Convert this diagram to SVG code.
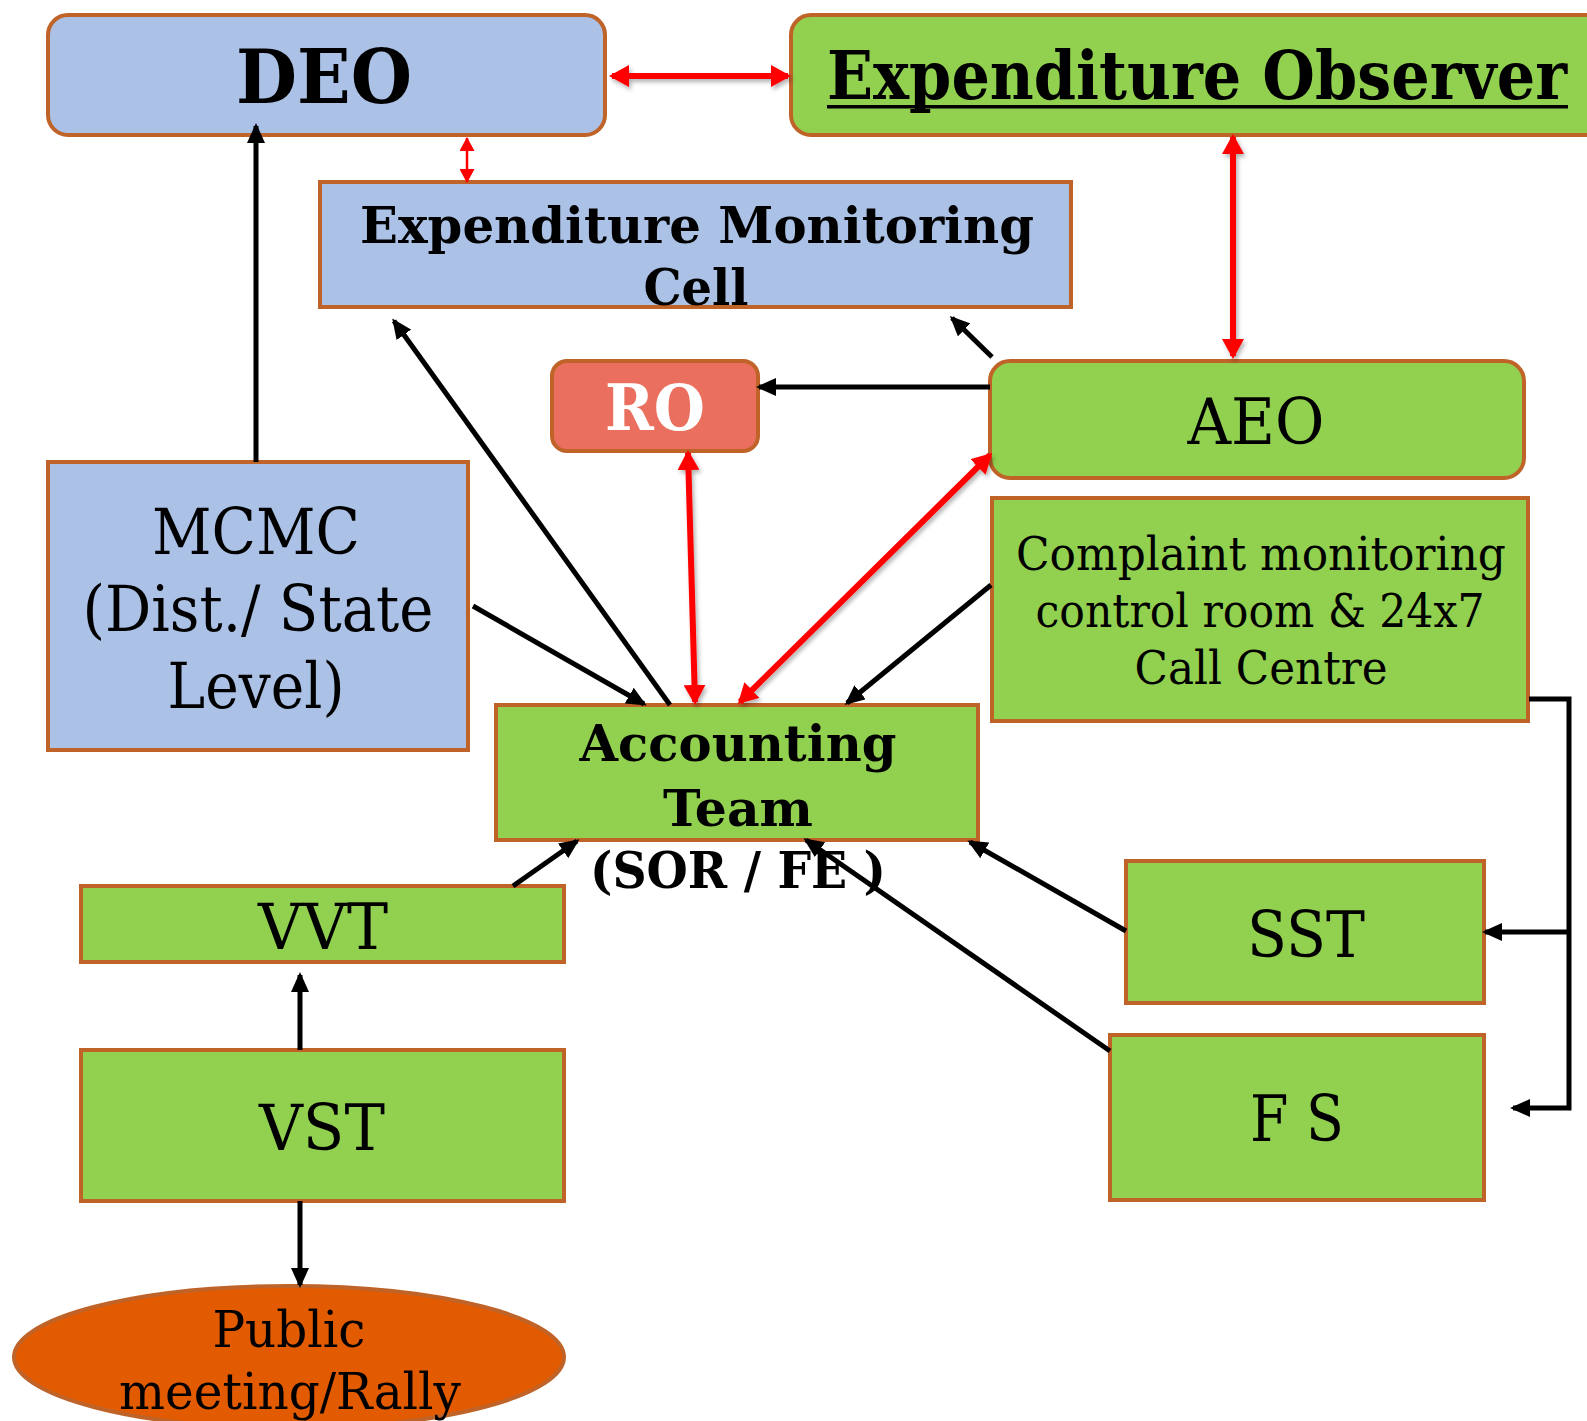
<svg xmlns="http://www.w3.org/2000/svg" width="1587" height="1421" viewBox="0 0 1587 1421">
  <style>
    .box { stroke: #BF6328; stroke-width: 4; }
    .blue { fill: #ABC1E6; }
    .green { fill: #92D050; }
    .ro { fill: #EA6F5E; }
    .rally { fill: #E35B00; }
    text { font-family: "DejaVu Serif", "Liberation Serif", serif; fill: #000; text-anchor: middle; }
    .b { font-weight: bold; }
    .white { fill: #fff; }
    .blk { stroke: #000; stroke-width: 5; fill: none; marker-end: url(#headK); }
    .red { stroke: #FF0000; stroke-width: 6; fill: none; marker-start: url(#headR); marker-end: url(#headR); }
    .redThin { stroke: #FF0000; stroke-width: 2.5; fill: none; marker-start: url(#headRs); marker-end: url(#headRs); }
  </style>
  <defs>
    <marker id="headK" markerUnits="userSpaceOnUse" viewBox="0 0 20 18" markerWidth="20" markerHeight="18" refX="17" refY="9" orient="auto-start-reverse">
      <path d="M0,0 L20,9 L0,18 z" fill="#000"/>
    </marker>
    <marker id="headR" markerUnits="userSpaceOnUse" viewBox="0 0 20 22" markerWidth="20" markerHeight="22" refX="17" refY="11" orient="auto-start-reverse">
      <path d="M0,0 L20,11 L0,22 z" fill="#FF0000"/>
    </marker>
    <marker id="headRs" markerUnits="userSpaceOnUse" viewBox="0 0 14 15" markerWidth="14" markerHeight="15" refX="13" refY="7.5" orient="auto-start-reverse">
      <path d="M0,0 L14,7.5 L0,15 z" fill="#FF0000"/>
    </marker>
    <!-- soft shadow under the two-way links; region given in user space so straight lines keep it -->
    <filter id="soft" filterUnits="userSpaceOnUse" x="0" y="0" width="1587" height="1421">
      <feDropShadow dx="2" dy="3" stdDeviation="2" flood-color="#000" flood-opacity="0.3"/>
    </filter>
  </defs>

  <rect width="1587" height="1421" fill="#fff"/>

  <g id="deo">
    <rect class="box blue" x="48" y="15" width="557" height="120" rx="20"/>
    <text class="b" x="324" y="103" font-size="74" textLength="176" lengthAdjust="spacingAndGlyphs">DEO</text>
  </g>

  <g id="expenditure-observer">
    <rect class="box green" x="791" y="15" width="820" height="120" rx="20"/>
    <text class="b" x="1197" y="99" font-size="67" textLength="740" lengthAdjust="spacingAndGlyphs">Expenditure Observer</text>
    <rect x="827" y="105" width="741" height="3.5" fill="#000"/>
  </g>

  <g id="emc">
    <rect class="box blue" x="320" y="182" width="751" height="125"/>
    <text class="b" x="697" y="243" font-size="50" textLength="674" lengthAdjust="spacingAndGlyphs">Expenditure Monitoring</text>
    <text class="b" x="696" y="305" font-size="50" textLength="105" lengthAdjust="spacingAndGlyphs">Cell</text>
  </g>

  <g id="ro">
    <rect class="box ro" x="552" y="361" width="206" height="90" rx="15"/>
    <text class="b white" x="655" y="430" font-size="63" textLength="100" lengthAdjust="spacingAndGlyphs">RO</text>
  </g>

  <g id="aeo">
    <rect class="box green" x="990" y="361" width="534" height="117" rx="20"/>
    <text x="1256" y="444" font-size="64" textLength="137" lengthAdjust="spacingAndGlyphs">AEO</text>
  </g>

  <g id="mcmc">
    <rect class="box blue" x="48" y="462" width="420" height="288"/>
    <text x="256" y="554" font-size="63" textLength="208" lengthAdjust="spacingAndGlyphs">MCMC</text>
    <text x="258" y="631" font-size="63" textLength="351" lengthAdjust="spacingAndGlyphs">(Dist./ State</text>
    <text x="256" y="708" font-size="63" textLength="177" lengthAdjust="spacingAndGlyphs">Level)</text>
  </g>

  <g id="complaint">
    <rect class="box green" x="992" y="498" width="536" height="223"/>
    <text x="1261" y="570" font-size="47" textLength="490" lengthAdjust="spacingAndGlyphs">Complaint monitoring</text>
    <text x="1260" y="627" font-size="47" textLength="449" lengthAdjust="spacingAndGlyphs">control room &amp; 24x7</text>
    <text x="1261" y="684" font-size="47" textLength="253" lengthAdjust="spacingAndGlyphs">Call Centre</text>
  </g>

  <g id="accounting">
    <rect class="box green" x="496" y="705" width="482" height="135"/>
    <text class="b" x="738" y="761" font-size="51" textLength="317" lengthAdjust="spacingAndGlyphs">Accounting</text>
    <text class="b" x="738" y="826" font-size="51" textLength="150" lengthAdjust="spacingAndGlyphs">Team</text>
    <text class="b" x="738" y="888" font-size="51" textLength="296" lengthAdjust="spacingAndGlyphs">(SOR / FE )</text>
  </g>

  <g id="sst">
    <rect class="box green" x="1126" y="861" width="358" height="142"/>
    <text x="1306" y="957" font-size="63" textLength="118" lengthAdjust="spacingAndGlyphs">SST</text>
  </g>

  <g id="fs">
    <rect class="box green" x="1110" y="1035" width="374" height="165"/>
    <text x="1297" y="1141" font-size="63" textLength="94" lengthAdjust="spacingAndGlyphs">F S</text>
  </g>

  <g id="vvt">
    <rect class="box green" x="81" y="886" width="483" height="76"/>
    <text x="323" y="949" font-size="63" textLength="130" lengthAdjust="spacingAndGlyphs">VVT</text>
  </g>

  <g id="vst">
    <rect class="box green" x="81" y="1050" width="483" height="151"/>
    <text x="322" y="1150" font-size="63" textLength="126" lengthAdjust="spacingAndGlyphs">VST</text>
  </g>

  <g id="rally">
    <ellipse class="box rally" cx="289" cy="1357" rx="275" ry="71"/>
    <text x="289" y="1347" font-size="51" textLength="153" lengthAdjust="spacingAndGlyphs">Public</text>
    <text x="290" y="1409" font-size="51" textLength="342" lengthAdjust="spacingAndGlyphs">meeting/Rally</text>
  </g>

  <g id="connectors">
    <!-- two-way links (red) -->
    <g filter="url(#soft)">
      <line class="red" x1="612" y1="76" x2="788" y2="76"/>
      <line class="red" x1="1233" y1="137" x2="1233" y2="356"/>
      <line class="red" x1="688" y1="453" x2="695" y2="702"/>
      <line class="red" x1="990" y1="455" x2="740" y2="702"/>
    </g>
    <line class="redThin" x1="467" y1="138" x2="467" y2="182"/>
    <!-- one-way links (black) -->
    <line class="blk" x1="256" y1="462" x2="256" y2="126"/>
    <line class="blk" x1="992" y1="357" x2="952" y2="318"/>
    <line class="blk" x1="990" y1="387" x2="759" y2="387"/>
    <line class="blk" x1="473" y1="606" x2="644" y2="704"/>
    <line class="blk" x1="670" y1="705" x2="394" y2="321"/>
    <line class="blk" x1="991" y1="585" x2="847" y2="703"/>
    <line class="blk" x1="513" y1="886" x2="577" y2="841"/>
    <line class="blk" x1="1126" y1="931" x2="970" y2="842"/>
    <line class="blk" x1="1110" y1="1051" x2="806" y2="840"/>
    <path class="blk" d="M1529,699 H1569 V1108 H1513" stroke-linejoin="miter"/>
    <path class="blk" d="M1569,932 H1485"/>
    <line class="blk" x1="300" y1="1050" x2="300" y2="975"/>
    <line class="blk" x1="300" y1="1201" x2="300" y2="1285"/>
  </g>
</svg>
